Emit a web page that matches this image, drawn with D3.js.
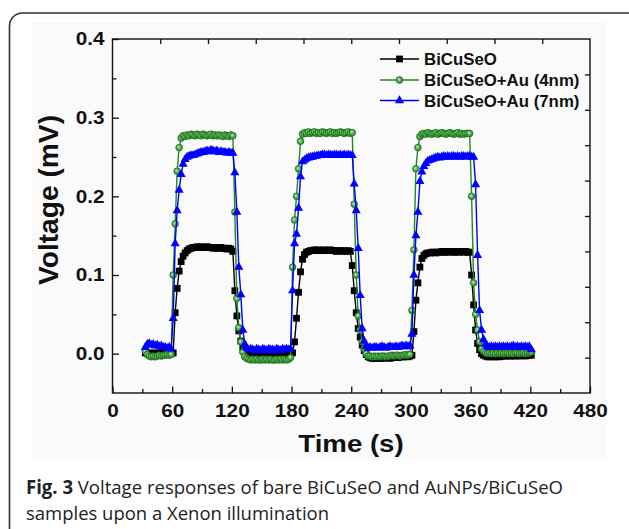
<!DOCTYPE html>
<html>
<head>
<meta charset="utf-8">
<script src="https://cdnjs.cloudflare.com/ajax/libs/d3/7.8.5/d3.min.js"></script>
<style>
  body { margin: 0; background: #fff; }
  svg { display: block; }
</style>
</head>
<body>
<div id="graph"></div>
<script>
// sample times in seconds, shared by the three samples
const time = [
  33, 35, 37, 39, 41, 43, 45, 47, 49, 51,
  53, 55, 57, 59, 61, 63, 65, 67, 69, 71,
  73, 75, 77, 79, 81, 83, 85, 87, 89, 91,
  93, 95, 97, 99, 101, 103, 105, 107, 109, 111,
  113, 115, 117, 119, 121, 123, 125, 127, 129, 131,
  133, 135, 137, 139, 141, 143, 145, 147, 149, 151,
  153, 155, 157, 159, 161, 163, 165, 167, 169, 171,
  173, 175, 177, 179, 181, 183, 185, 187, 189, 191,
  193, 195, 197, 199, 201, 203, 205, 207, 209, 211,
  213, 215, 217, 219, 221, 223, 225, 227, 229, 231,
  233, 235, 237, 239, 241, 243, 245, 247, 249, 251,
  253, 255, 257, 259, 261, 263, 265, 267, 269, 271,
  273, 275, 277, 279, 281, 283, 285, 287, 289, 291,
  293, 295, 297, 299, 301, 303, 305, 307, 309, 311,
  313, 315, 317, 319, 321, 323, 325, 327, 329, 331,
  333, 335, 337, 339, 341, 343, 345, 347, 349, 351,
  353, 355, 357, 359, 361, 363, 365, 367, 369, 371,
  373, 375, 377, 379, 381, 383, 385, 387, 389, 391,
  393, 395, 397, 399, 401, 403, 405, 407, 409, 411,
  413, 415, 417, 419, 421
];

// voltage in mV - bare BiCuSeO
const bareBiCuSeO = [
  0.001, 0.000, 0.001, 0.000, 0.000, 0.001, 0.000, 0.000, 0.001, 0.000,
  0.000, 0.001, 0.000, 0.000, 0.001, 0.052, 0.083, 0.105, 0.117, 0.124,
  0.128, 0.131, 0.133, 0.134, 0.135, 0.135, 0.136, 0.135, 0.136, 0.135,
  0.135, 0.136, 0.135, 0.135, 0.134, 0.135, 0.134, 0.134, 0.135, 0.134,
  0.134, 0.133, 0.134, 0.133, 0.130, 0.080, 0.048, 0.029, 0.016, 0.008,
  0.004, 0.002, 0.001, 0.000, 0.000, -0.001, 0.000, -0.001, 0.000, -0.001,
  -0.001, 0.000, -0.001, 0.000, -0.001, 0.000, 0.000, -0.001, 0.000, 0.000,
  0.000, 0.000, 0.001, 0.000, 0.001, 0.015, 0.045, 0.078, 0.104, 0.120,
  0.126, 0.129, 0.130, 0.131, 0.131, 0.132, 0.131, 0.132, 0.131, 0.131,
  0.132, 0.131, 0.131, 0.132, 0.131, 0.131, 0.130, 0.131, 0.131, 0.130,
  0.131, 0.130, 0.131, 0.130, 0.112, 0.080, 0.052, 0.032, 0.021, 0.011,
  0.004, -0.001, -0.004, -0.005, -0.006, -0.006, -0.005, -0.006, -0.006, -0.005,
  -0.006, -0.005, -0.005, -0.006, -0.005, -0.005, -0.004, -0.005, -0.004, -0.004,
  -0.004, -0.003, -0.004, -0.003, -0.002, 0.028, 0.068, 0.090, 0.110, 0.121,
  0.125, 0.127, 0.128, 0.128, 0.129, 0.129, 0.128, 0.129, 0.129, 0.130,
  0.129, 0.129, 0.130, 0.129, 0.130, 0.129, 0.129, 0.130, 0.129, 0.130,
  0.129, 0.130, 0.129, 0.129, 0.100, 0.062, 0.030, 0.013, 0.005, 0.000,
  -0.002, -0.003, -0.004, -0.004, -0.003, -0.004, -0.004, -0.003, -0.004, -0.003,
  -0.003, -0.003, -0.002, -0.003, -0.003, -0.002, -0.003, -0.002, -0.003, -0.002,
  -0.002, -0.003, -0.002, -0.002, -0.002
];

// BiCuSeO + Au (4nm)
const au4nm = [
  0.003, -0.001, -0.003, -0.004, -0.003, -0.004, -0.003, -0.002, -0.003, -0.002,
  -0.002, -0.001, -0.002, -0.001, 0.100, 0.165, 0.232, 0.262, 0.274, 0.277,
  0.276, 0.278, 0.277, 0.279, 0.278, 0.277, 0.279, 0.278, 0.277, 0.279,
  0.278, 0.277, 0.278, 0.279, 0.277, 0.278, 0.277, 0.278, 0.277, 0.276,
  0.278, 0.277, 0.276, 0.278, 0.277, 0.180, 0.070, 0.033, 0.015, 0.002,
  -0.004, -0.006, -0.007, -0.008, -0.007, -0.008, -0.007, -0.008, -0.008, -0.007,
  -0.008, -0.007, -0.008, -0.007, -0.008, -0.008, -0.007, -0.008, -0.007, -0.008,
  -0.007, -0.008, -0.007, -0.005, 0.110, 0.170, 0.200, 0.235, 0.270, 0.279,
  0.281, 0.280, 0.282, 0.280, 0.281, 0.282, 0.280, 0.281, 0.280, 0.282,
  0.281, 0.280, 0.281, 0.282, 0.280, 0.281, 0.280, 0.281, 0.282, 0.281,
  0.280, 0.281, 0.282, 0.280, 0.281, 0.190, 0.100, 0.048, 0.030, 0.015,
  0.006, 0.000, -0.003, -0.003, -0.004, -0.003, -0.004, -0.003, -0.004, -0.003,
  -0.003, -0.004, -0.003, -0.003, -0.002, -0.003, -0.002, -0.002, -0.003, -0.002,
  -0.002, -0.001, -0.002, -0.001, 0.055, 0.132, 0.235, 0.262, 0.276, 0.279,
  0.280, 0.279, 0.281, 0.280, 0.279, 0.280, 0.281, 0.279, 0.280, 0.281,
  0.280, 0.279, 0.280, 0.281, 0.280, 0.279, 0.280, 0.281, 0.279, 0.280,
  0.279, 0.280, 0.280, 0.280, 0.200, 0.090, 0.050, 0.030, 0.015, 0.006,
  0.003, 0.001, 0.000, 0.001, 0.000, 0.001, 0.000, 0.001, 0.000, 0.001,
  0.000, 0.001, 0.001, 0.000, 0.001, 0.000, 0.001, 0.001, 0.000, 0.001,
  0.001, 0.000, 0.001, 0.001, 0.002
];

// BiCuSeO + Au (7nm)
const au7nm = [
  0.008, 0.012, 0.013, 0.011, 0.012, 0.010, 0.011, 0.009, 0.010, 0.008,
  0.008, 0.007, 0.008, 0.006, 0.045, 0.140, 0.182, 0.208, 0.228, 0.241,
  0.247, 0.250, 0.251, 0.252, 0.252, 0.253, 0.254, 0.255, 0.256, 0.256,
  0.257, 0.258, 0.257, 0.259, 0.258, 0.257, 0.258, 0.256, 0.257, 0.256,
  0.256, 0.255, 0.256, 0.255, 0.255, 0.230, 0.180, 0.110, 0.075, 0.030,
  0.012, 0.007, 0.005, 0.006, 0.005, 0.004, 0.006, 0.005, 0.004, 0.006,
  0.005, 0.004, 0.006, 0.005, 0.005, 0.004, 0.006, 0.005, 0.004, 0.006,
  0.005, 0.006, 0.005, 0.006, 0.080, 0.140, 0.152, 0.185, 0.225, 0.244,
  0.246, 0.248, 0.249, 0.250, 0.250, 0.251, 0.251, 0.252, 0.252, 0.253,
  0.253, 0.252, 0.253, 0.253, 0.252, 0.253, 0.253, 0.252, 0.253, 0.252,
  0.253, 0.252, 0.253, 0.252, 0.252, 0.216, 0.182, 0.134, 0.074, 0.032,
  0.016, 0.009, 0.007, 0.008, 0.007, 0.008, 0.008, 0.007, 0.008, 0.009,
  0.008, 0.007, 0.008, 0.009, 0.008, 0.008, 0.009, 0.008, 0.009, 0.010,
  0.009, 0.010, 0.009, 0.010, 0.025, 0.100, 0.150, 0.180, 0.219, 0.231,
  0.238, 0.242, 0.245, 0.246, 0.247, 0.248, 0.249, 0.250, 0.249, 0.250,
  0.251, 0.250, 0.251, 0.250, 0.251, 0.251, 0.250, 0.251, 0.250, 0.251,
  0.251, 0.250, 0.251, 0.251, 0.250, 0.250, 0.215, 0.125, 0.055, 0.030,
  0.018, 0.012, 0.009, 0.008, 0.009, 0.008, 0.009, 0.008, 0.009, 0.008,
  0.009, 0.008, 0.009, 0.008, 0.009, 0.010, 0.008, 0.009, 0.008, 0.009,
  0.008, 0.009, 0.008, 0.009, 0.005
];

const seriesNames = ["BiCuSeO", "BiCuSeO+Au (4nm)", "BiCuSeO+Au (7nm)"];

// tick values, bottom/left are labelled, top/right only carry marks
const xTicks = [0, 60, 120, 180, 240, 300, 360, 420, 480];
const xMinorTicks = [30, 90, 150, 210, 270, 330, 390, 450];
const yTicks = [0.0, 0.1, 0.2, 0.3, 0.4];
const yMinorTicks = [0.05, 0.15, 0.25, 0.35];
const topTicks = [48, 96, 144, 192, 240, 288, 336, 384, 432];
const rightTicks = [-0.005, 0.04, 0.085, 0.13, 0.175, 0.22, 0.265, 0.31, 0.355];

const xTitle = "Time (s)";
const yTitle = "Voltage (mV)";
const captionBold = "Fig. 3";
const captionLine1 = " Voltage responses of bare BiCuSeO and AuNPs/BiCuSeO";
const captionLine2 = "samples upon a Xenon illumination";

const width = 629, height = 529;
const plotLeft = 112.5, plotRight = 590, plotTop = 39, plotBottom = 393;
const chartFont = "'Liberation Sans', Arial, sans-serif";

let svg = d3.select('#graph').append('svg')
  .attr('width', width)
  .attr('height', height);

// glyphs in the figure are a bit wider than plain Arial, stretch them
const stretch = (sel, k) => {
  sel.each(function () {
    let w = this.getComputedTextLength();
    d3.select(this).attr('textLength', w * k).attr('lengthAdjust', 'spacingAndGlyphs');
  });
};

// figure panel with rounded frame
svg.append('rect')
  .attr('x', 32).attr('y', 22)
  .attr('width', 575).attr('height', 438)
  .style('fill', '#fafafa');
svg.append('rect')
  .attr('x', 9.5).attr('y', 13)
  .attr('width', 640).attr('height', 560)
  .attr('rx', 13)
  .style('fill', 'none')
  .style('stroke', '#333')
  .style('stroke-width', 1.6);

const x = d3.scaleLinear().domain([0, 480]).range([plotLeft, plotRight]);
const y = d3.scaleLinear().domain([-0.05, 0.4]).range([plotBottom, plotTop]);

const tickStyle = g => {
  g.select('.domain').remove();
  g.selectAll('.tick line').style('stroke', '#111').style('stroke-width', 1.3);
  g.selectAll('text')
    .style('font-family', chartFont)
    .style('font-weight', 'bold')
    .style('font-size', '18px')
    .style('fill', '#111');
};

// bottom axis
let xAxis = svg.append('g')
  .attr('transform', `translate(0,${plotBottom})`)
  .call(d3.axisBottom(x).tickValues(xTicks).tickSize(-6.5).tickSizeOuter(0).tickPadding(11).tickFormat(d3.format('d')))
  .call(tickStyle);
svg.append('g')
  .attr('transform', `translate(0,${plotBottom})`)
  .call(d3.axisBottom(x).tickValues(xMinorTicks).tickSize(-4).tickSizeOuter(0).tickFormat(''))
  .call(tickStyle);

// left axis
let yAxis = svg.append('g')
  .attr('transform', `translate(${plotLeft},0)`)
  .call(d3.axisLeft(y).tickValues(yTicks).tickSize(-6.5).tickSizeOuter(0).tickPadding(8).tickFormat(d3.format('.1f')))
  .call(tickStyle);
svg.append('g')
  .attr('transform', `translate(${plotLeft},0)`)
  .call(d3.axisLeft(y).tickValues(yMinorTicks).tickSize(-4).tickSizeOuter(0).tickFormat(''))
  .call(tickStyle);

// top and right axes
svg.append('g')
  .attr('transform', `translate(0,${plotTop})`)
  .call(d3.axisTop(x).tickValues(topTicks).tickSize(-5).tickSizeOuter(0).tickFormat(''))
  .call(tickStyle);
svg.append('g')
  .attr('transform', `translate(${plotRight},0)`)
  .call(d3.axisRight(y).tickValues(rightTicks).tickSize(-5).tickSizeOuter(0).tickFormat(''))
  .call(tickStyle);

stretch(xAxis.selectAll('text'), 1.15);
stretch(yAxis.selectAll('text'), 1.15);

svg.append('rect')
  .attr('x', plotLeft).attr('y', plotTop)
  .attr('width', plotRight - plotLeft).attr('height', plotBottom - plotTop)
  .style('fill', 'none')
  .style('stroke', '#111')
  .style('stroke-width', 1.4);

// axis titles
let xt = svg.append('text')
  .attr('x', 351).attr('y', 452)
  .attr('text-anchor', 'middle')
  .style('font-family', chartFont).style('font-weight', 'bold').style('font-size', '24px')
  .style('fill', '#111')
  .text(xTitle);
stretch(xt, 1.15);

let yt = svg.append('text')
  .attr('transform', 'translate(58,200) rotate(-90)')
  .attr('text-anchor', 'middle')
  .style('font-family', chartFont).style('font-weight', 'bold').style('font-size', '27px')
  .style('fill', '#111')
  .text(yTitle);
yt.attr('textLength', 170).attr('lengthAdjust', 'spacingAndGlyphs');

// ball-like green marker
let defs = svg.append('defs');
let grad = defs.append('radialGradient').attr('id', 'ball')
  .attr('cx', '0.5').attr('cy', '0.5').attr('r', '0.55')
  .attr('fx', '0.38').attr('fy', '0.38');
grad.append('stop').attr('offset', '0%').attr('stop-color', '#d6f0d0');
grad.append('stop').attr('offset', '45%').attr('stop-color', '#5fb35a');
grad.append('stop').attr('offset', '100%').attr('stop-color', '#1c7a1c');

const colors = ['#000000', '#1f8a1f', '#0000ff'];
const allSeries = [bareBiCuSeO, au4nm, au7nm];

const line = d3.line()
  .x((d, i) => x(time[i]))
  .y(d => y(d));

const drawMarker = (g, k) => {
  if (k === 0) {
    g.append('rect').attr('x', -3.4).attr('y', -3.4).attr('width', 6.8).attr('height', 6.8)
      .style('fill', '#000');
  } else if (k === 1) {
    g.append('circle').attr('r', 3.4)
      .style('fill', 'url(#ball)').style('stroke', '#1a6f1a').style('stroke-width', 0.6);
  } else {
    g.append('path').attr('d', d3.symbol(d3.symbolTriangle, 36)())
      .style('fill', '#0000ff');
  }
};

allSeries.forEach((vals, k) => {
  svg.append('path')
    .datum(vals)
    .attr('d', line)
    .style('fill', 'none')
    .style('stroke', colors[k])
    .style('stroke-width', 1.4);
  let pts = svg.append('g');
  vals.forEach((v, i) => {
    let g = pts.append('g').attr('transform', `translate(${x(time[i])},${y(v)})`);
    drawMarker(g, k);
  });
});

// legend
const legendY = [59, 80, 100.5];
seriesNames.forEach((name, k) => {
  let row = svg.append('g');
  row.append('line')
    .attr('x1', 380).attr('x2', 419)
    .attr('y1', legendY[k]).attr('y2', legendY[k])
    .style('stroke', colors[k]).style('stroke-width', 1.6);
  let m = row.append('g').attr('transform', `translate(399.5,${legendY[k]})`);
  drawMarker(m, k);
  let t = row.append('text')
    .attr('x', 424).attr('y', legendY[k] + 6)
    .style('font-family', chartFont).style('font-weight', 'bold').style('font-size', '16px')
    .style('fill', '#111')
    .text(name);
  stretch(t, 1.05);
});

// caption under the figure
let cap = svg.append('text')
  .attr('x', 26).attr('y', 494)
  .style('font-family', "'Open Sans', 'Noto Sans', sans-serif")
  .style('font-size', '19px')
  .style('fill', '#222');
cap.append('tspan').style('font-weight', 'bold').text(captionBold);
cap.append('tspan').text(captionLine1);
cap.attr('textLength', 537).attr('lengthAdjust', 'spacingAndGlyphs');

svg.append('text')
  .attr('x', 26).attr('y', 519.5)
  .style('font-family', "'Open Sans', 'Noto Sans', sans-serif")
  .style('font-size', '19px')
  .style('fill', '#222')
  .attr('textLength', 303).attr('lengthAdjust', 'spacingAndGlyphs')
  .text(captionLine2);
</script>
</body>
</html>
